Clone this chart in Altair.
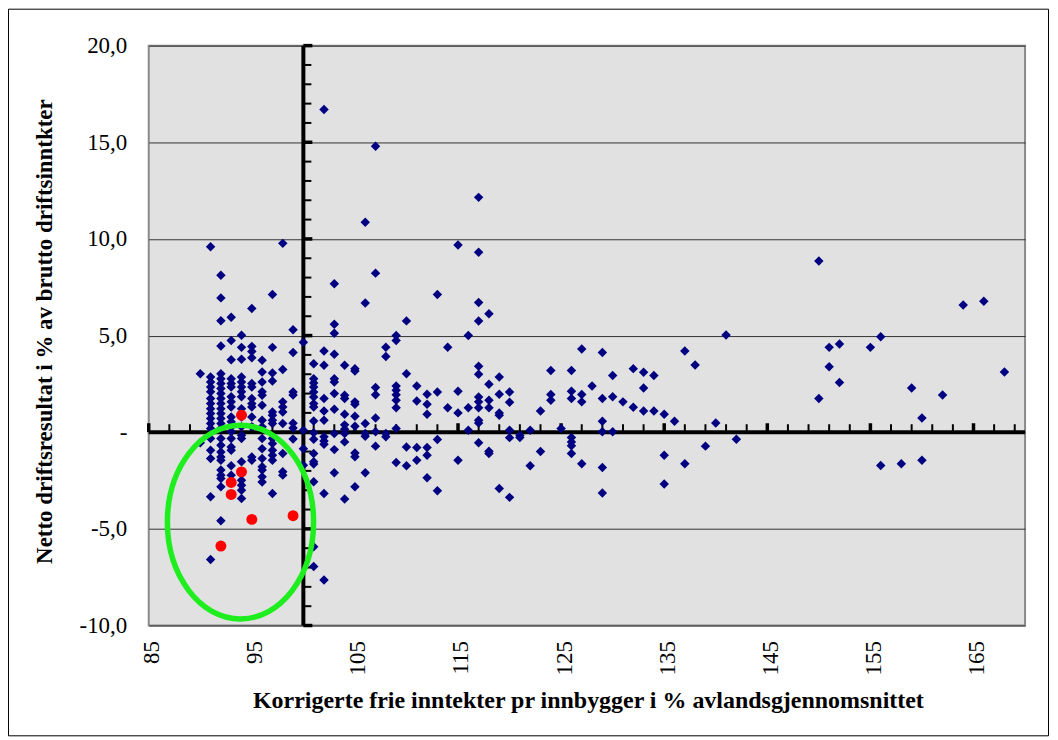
import altair as alt
import pandas as pd

# ---------------- data ----------------
X_DOMAIN = [85, 170]
Y_DOMAIN = [-10, 20]
X_LABEL_VALUES = [85, 95, 105, 115, 125, 135, 145, 155, 165]
Y_LABEL_VALUES = [-10, -5, 0, 5, 10, 15, 20]
CROSS_X = 100          # vertical axis crosses here
CROSS_Y = 0            # horizontal axis crosses here
V_TICKS = list(range(-10, 21))      # ticks on the vertical crossing axis
H_TICKS = list(range(85, 170, 2))   # ticks on the horizontal crossing axis

LEFT_X = [90, 91, 92, 93, 94, 95, 96, 97, 98, 99, 100]
LEFT_Y = [
    [3.03, -0.55],
    [9.59, 2.86, 2.60, 2.34, 2.09, 1.74, 1.48, 1.22, 0.97, 0.71, 0.45, 0.19, -0.33, -0.93, -1.36, -3.34, -6.58],
    [8.12, 6.95, 5.77, 4.46, 3.03, 2.77, 2.52, 2.26, 2.0, 1.74, 1.48, 1.22, 0.97, 0.71, 0.45, 0.19, -0.33, -0.67,
     -1.02, -1.28, -1.45, -1.96, -2.22, -2.39, -2.82, -4.58],
    [5.95, 4.75, 3.75, 2.77, 2.52, 2.34, 1.83, 1.57, 1.31, 0.79, 0.54, 0.27, 0.02, -0.33, -0.76, -0.93, -1.74, -2.22],
    [5.02, 4.39, 3.77, 2.86, 2.6, 2.34, 2.09, 1.83, 1.22, 0.79, 0.28, -0.16, -0.33, -1.53, -2.48, -2.74, -3.0, -3.43],
    [6.40, 4.44, 4.18, 3.85, 2.52, 2.34, 1.74, 1.48, 1.31, 0.79, 0.28, -1.28, -1.45],
    [3.72, 3.11, 2.6, 2.09, 1.91, 1.40, 0.62, 0.28, -0.33, -0.85, -1.36, -1.79, -1.96, -2.31, -2.57],
    [7.12, 4.39, 3.06, 2.65, 1.05, 0.88, 0.62, 0.45, -0.33, -0.59, -0.93, -1.19, -1.45, -3.17],
    [9.77, 3.24, 1.57, 1.31, 1.05, 0.45, -1.1, -2.05, -2.22],
    [5.30, 4.12, 2.08, 1.93, 0.47, 0.22, -0.35],
    [4.66, 0.10, -0.85, -1.71],
]

MID_X = [101, 102, 103, 104, 105, 106, 107, 108, 109, 110, 111,
         112, 113, 114, 115, 116, 117, 118, 119, 120, 121]
MID_Y = [
    [3.54, 2.77, 2.55, 2.34, 2.08, 1.82, 1.48, 1.31, 0.58, -0.03, -0.36, -1.10, -1.53, -1.65, -2.56, -5.92, -6.95],
    [16.7, 4.20, 3.46, 1.74, 1.10, 0.62, -0.24, -0.45, -0.62, -3.17, -7.64],
    [7.68, 5.59, 5.12, 4.03, 2.77, 2.60, 2.0, 1.19, -0.07, -0.9, -2.10],
    [3.46, 1.91, 1.74, 0.93, 0.38, 0.15, -0.07, -0.5, -3.46],
    [3.29, 3.17, 1.57, 1.45, 0.83, 0.31, -1.07, -1.27, -2.82],
    [10.86, 6.68, 0.45, -0.07, -0.21, -2.1],
    [14.8, 8.23, 2.31, 1.94, 0.74, 0.02, -0.72],
    [4.40, 3.92, -0.07, -0.24],
    [5.0, 4.75, 2.39, 2.17, 1.94, 1.65, 1.27, 0.19, -1.57],
    [5.76, 3.03, -0.76, -1.74],
    [2.39, 1.62, -0.79, -1.45],
    [1.96, 1.45, 0.93, -0.79, -1.19, -2.36],
    [7.12, 2.08, -0.38, -3.03],
    [4.40, 1.27],
    [9.69, 2.12, 1.0, -1.45],
    [5.0, 1.27, 0.10],
    [12.15, 9.31, 6.71, 5.75, 3.41, 3.0, 1.82, 1.57, 1.27, 0.62, 0.48, -0.55],
    [6.13, 2.48, 1.65, 1.27, -0.98, -1.1],
    [2.86, 1.96, 1.0, 0.88, -2.91],
    [2.08, 1.55, 0.10, -0.28, -3.37],
    [-0.16, -0.27],
]

RIGHT_X = [122, 123, 124, 125, 126, 127, 128, 129, 130, 131, 132, 133, 134, 135, 136,
           137, 138, 139, 140, 141, 142, 150, 151, 152, 155, 156, 158, 159, 160, 162,
           164, 166, 168]
RIGHT_Y = [
    [0.10, -1.74], [1.10, -1.0], [3.19, 1.95, 1.65], [0.19],
    [3.19, 2.12, 1.74, -0.27, -0.50, -0.70, -1.10], [4.30, 1.95, 1.57, -1.63], [2.39],
    [4.12, 1.74, 0.57, 0.02, -1.82, -3.15], [2.93, 1.83, 0.02], [1.57], [3.29, 1.29],
    [3.10, 2.29, 1.10], [2.93, 1.10], [0.93, -1.19, -2.68], [0.57], [4.20, -1.63], [3.48],
    [-0.72], [0.48], [5.03], [-0.36], [8.86, 1.74], [4.39, 3.39], [4.56, 2.57], [4.39],
    [4.94, -1.72], [-1.63], [2.29], [0.74, -1.45], [1.93], [6.58], [6.77], [3.12],
]

RED_X = [94, 94, 93, 93, 95, 99, 92]
RED_Y = [0.88, -2.05, -2.6, -3.22, -4.51, -4.32, -5.89]

ELLIPSE_X = [93.9]
ELLIPSE_Y = [-4.65]

X_TITLE = "Korrigerte frie inntekter pr innbygger i %  avlandsgjennomsnittet"
Y_TITLE = "Netto driftsresultat i % av brutto driftsinntkter"

# ---------------- build tables ----------------
rows = []
for xs_, ys_ in ((LEFT_X, LEFT_Y), (MID_X, MID_Y), (RIGHT_X, RIGHT_Y)):
    for xv, col in zip(xs_, ys_):
        for yv in col:
            rows.append({"x": xv, "y": yv})
blue_df = pd.DataFrame(rows)
red_df = pd.DataFrame({"x": RED_X, "y": RED_Y})
ell_df = pd.DataFrame({"x": ELLIPSE_X, "y": ELLIPSE_Y})

vline_df = pd.DataFrame({"x": [CROSS_X], "y": [Y_DOMAIN[0]], "y2": [Y_DOMAIN[1]]})
hline_df = pd.DataFrame({"x": [X_DOMAIN[0]], "x2": [X_DOMAIN[1]], "y": [CROSS_Y]})
vt_df = pd.DataFrame({"x": CROSS_X, "x2": CROSS_X, "y": V_TICKS})
vt_df["major"] = vt_df["y"] % 5 == 0
ht_df = pd.DataFrame({"x": H_TICKS, "y": CROSS_Y, "y2": CROSS_Y})
ht_df["major"] = (ht_df["x"] - 85) % 10 == 0
frame_df = pd.DataFrame({"a": [0]})

FONT = "Liberation Serif"
xs = alt.Scale(domain=X_DOMAIN, nice=False, zero=False)
ys = alt.Scale(domain=Y_DOMAIN, nice=False, zero=False)

x_axis = alt.Axis(values=X_LABEL_VALUES, labelAngle=-90, grid=False, ticks=False, domain=False,
                  labelFont=FONT, labelFontSize=23, labelColor="black", labelPadding=15, labelOffset=3,
                  title=X_TITLE, titleFont=FONT, titleFontSize=24, titleFontWeight="bold",
                  titleColor="black", titleX=440, titleY=75, titleAlign="center",
                  titleBaseline="middle")
y_axis = alt.Axis(values=Y_LABEL_VALUES, grid=True, gridColor="#333333", gridWidth=1,
                  ticks=False, domain=False,
                  labelExpr="datum.value == 0 ? '-' : (datum.value < 0 ? '-' : '') + abs(datum.value) + ',0'",
                  labelFont=FONT, labelFontSize=23, labelColor="black", labelPadding=22,
                  title=Y_TITLE, titleFont=FONT, titleFontSize=23, titleFontWeight="bold",
                  titleColor="black", titleX=-104, titleY=286, titleAngle=-90, titleAlign="center",
                  titleBaseline="middle")

X = alt.X("x:Q", scale=xs, axis=x_axis, title=X_TITLE)
Y = alt.Y("y:Q", scale=ys, axis=y_axis, title=Y_TITLE)

blue = alt.Chart(blue_df).mark_point(shape="diamond", filled=True, size=90, color="#000080", opacity=1).encode(
    x=X, y=Y)

vline = alt.Chart(vline_df).mark_rule(color="black", strokeWidth=4).encode(x=X, y=Y, y2="y2:Q")
hline = alt.Chart(hline_df).mark_rule(color="black", strokeWidth=4).encode(x=X, x2="x2:Q", y=Y)

vt_minor = alt.Chart(vt_df).transform_filter("!datum.major").mark_rule(
    color="black", strokeWidth=2, x2Offset=8).encode(x=X, x2="x2:Q", y=Y)
vt_major = alt.Chart(vt_df).transform_filter("datum.major").mark_rule(
    color="black", strokeWidth=3.5, x2Offset=9).encode(x=X, x2="x2:Q", y=Y)
ht_minor = alt.Chart(ht_df).transform_filter("!datum.major").mark_rule(
    color="black", strokeWidth=2, y2Offset=-8).encode(x=X, y=Y, y2="y2:Q")
ht_major = alt.Chart(ht_df).transform_filter("datum.major").mark_rule(
    color="black", strokeWidth=3.5, y2Offset=-9).encode(x=X, y=Y, y2="y2:Q")

red = alt.Chart(red_df).mark_point(shape="circle", filled=True, size=120, color="#ff0000", opacity=1).encode(
    x=X, y=Y)

ELLIPSE_PATH = "M -0.755 0 A 0.755 1 0 1 1 0.755 0 A 0.755 1 0 1 1 -0.755 0 Z"
ellipse = alt.Chart(ell_df).mark_point(shape=ELLIPSE_PATH, filled=False, size=37636,
                                       stroke="#1eee1e", strokeWidth=5.5, opacity=1).encode(x=X, y=Y)

frame = alt.Chart(frame_df).mark_rect(fill="transparent", stroke="black", strokeWidth=1).encode(
    x=alt.value(-140.5), x2=alt.value(901.5), y=alt.value(-36.5), y2=alt.value(691.5))

chart = alt.layer(vline, hline, vt_minor, vt_major, ht_minor, ht_major, blue, red, ellipse, frame).properties(
    width=878, height=581,
    padding={"left": 141, "top": 37, "right": 25, "bottom": 112},
    autosize=alt.AutoSizeParams(type="none"),
    background="white",
).configure_view(fill="#e1e1e1", stroke="#8a8a8a", strokeWidth=2)

chart.save("out.html", embed_options={"renderer": "svg", "actions": False})
